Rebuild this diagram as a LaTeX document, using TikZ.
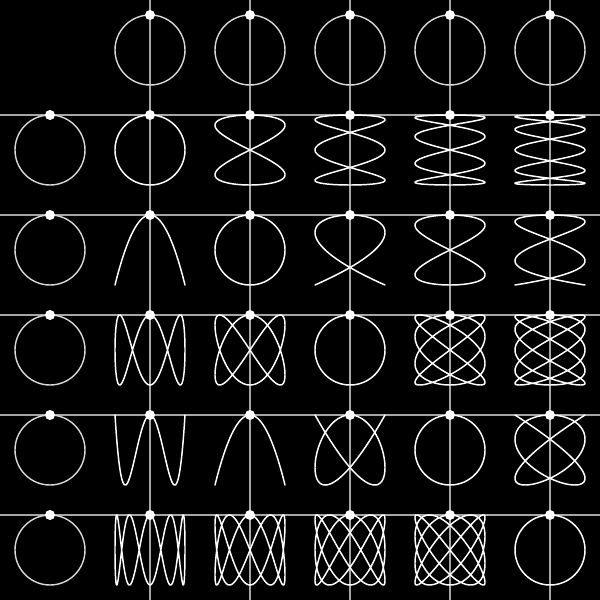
\documentclass[tikz,border=0pt]{standalone}
\begin{document}
\begin{tikzpicture}[
  gridline/.style={draw=white!65!black, line width=0.3pt},
  headcircle/.style={draw=white!85!black, line width=0.4pt},
  curve/.style={draw=white, line width=0.42pt, line join=round},
  dotmark/.style={fill=white, draw=none}
]
\fill[black] (0,0) rectangle (6,6);
\useasboundingbox (0,0) rectangle (6,6);
% grid lines
\foreach \j in {1,...,5} {
  \draw[gridline] (\j+0.5,0) -- (\j+0.5,6);
  \draw[gridline] (0,5.85-\j) -- (6,5.85-\j);
}
% header circles
\foreach \j in {1,...,5} {
  \draw[headcircle] (\j+0.5,5.5) circle (0.35);
  \draw[headcircle] (0.5,5.5-\j) circle (0.35);
  \fill[dotmark] (\j+0.5,5.85) circle (0.05);
  \fill[dotmark] (0.5,5.85-\j) circle (0.05);
}
% Lissajous curves
\foreach \i in {1,...,5} {
  \foreach \j in {1,...,5} {
    \pgfmathsetmacro{\cx}{\j+0.5}
    \pgfmathsetmacro{\cy}{5.5-\i}
    \draw[curve] plot[domain=0:360, samples=601, variable=\t]
      ({\cx+0.35*sin(\j*\t)}, {\cy+0.35*cos(\i*\t)});
    \fill[dotmark] (\cx,\cy+0.35) circle (0.05);
  }
}
\end{tikzpicture}
\end{document}
